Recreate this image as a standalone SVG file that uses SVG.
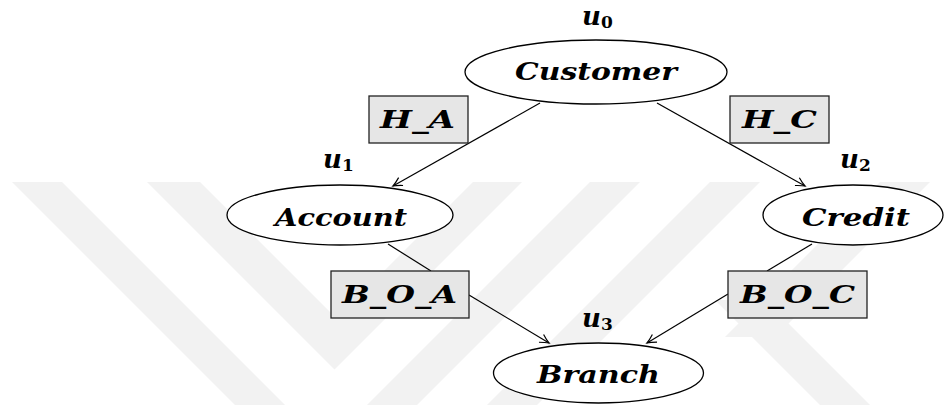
<svg xmlns="http://www.w3.org/2000/svg" width="944" height="405" viewBox="0 0 944 405">
<style>
.wm{fill:#f2f2f2;stroke:none}
.node ellipse{fill:#ffffff;stroke:#000;stroke-width:1.3}
.node rect{fill:#e6e6e6;stroke:#222;stroke-width:1.3}
.lbl{font-family:"DejaVu Serif","Liberation Serif",serif;font-weight:bold;font-style:italic;font-size:25px;fill:#000}
.u{font-family:"DejaVu Serif","Liberation Serif",serif;font-weight:bold;font-style:italic;font-size:26px;fill:#000}
.sub{font-style:normal;font-size:17px}
.edge{stroke:#000;stroke-width:1.2;fill:none}
</style>
<defs>
<marker id="arr" markerUnits="userSpaceOnUse" markerWidth="14" markerHeight="12" viewBox="-11 -6 12 12" refX="0" refY="0" orient="auto">
<path d="M -9 -4.5 Q -3.5 -1.2 0 0 Q -3.5 1.2 -9 4.5" fill="none" stroke="#000" stroke-width="1.2"/>
</marker>
</defs>
<rect width="944" height="405" fill="#ffffff"/>
<g id="watermark">
<polygon class="wm" points="12,182 62,182 285,405 235,405"/>
<polygon class="wm" points="590,182 640,182 417,405 367,405"/>
<polygon class="wm" points="147,182 200,182 336.5,318.5 473,182 522,182 334.5,369.5"/>
<polygon class="wm" points="710,182 760,182 537,405 487,405"/>
<polygon class="wm" points="880,182 930,182 775,337 725,337"/>
<polygon class="wm" points="715,300 765,300 870,405 820,405"/>
</g>
<g id="connectors">
<line class="edge" x1="540" y1="103" x2="393" y2="186" marker-end="url(#arr)"/>
<line class="edge" x1="657" y1="103" x2="805" y2="186" marker-end="url(#arr)"/>
<line class="edge" x1="388" y1="244" x2="431" y2="271"/>
<line class="edge" x1="469" y1="295" x2="549" y2="343" marker-end="url(#arr)"/>
<line class="edge" x1="812" y1="244" x2="767" y2="271"/>
<line class="edge" x1="728" y1="294" x2="647" y2="343" marker-end="url(#arr)"/>
</g>
<g id="customer" class="node">
<ellipse cx="596" cy="72" rx="131" ry="32"/>
<text class="lbl" x="515" y="80" textLength="162" lengthAdjust="spacingAndGlyphs">Customer</text>
<text class="u" x="582" y="25">u<tspan class="sub" dy="3">0</tspan></text>
</g>
<g id="account" class="node">
<ellipse cx="340" cy="215" rx="113" ry="30"/>
<text class="lbl" x="275" y="226" textLength="132" lengthAdjust="spacingAndGlyphs">Account</text>
<text class="u" x="323" y="168">u<tspan class="sub" dy="3">1</tspan></text>
</g>
<g id="credit" class="node">
<ellipse cx="853" cy="215" rx="90" ry="30"/>
<text class="lbl" x="802" y="226" textLength="108" lengthAdjust="spacingAndGlyphs">Credit</text>
<text class="u" x="840" y="168">u<tspan class="sub" dy="3">2</tspan></text>
</g>
<g id="branch" class="node">
<ellipse cx="598.5" cy="373" rx="105" ry="30"/>
<text class="lbl" x="537" y="383" textLength="123" lengthAdjust="spacingAndGlyphs">Branch</text>
<text class="u" x="582" y="327">u<tspan class="sub" dy="3">3</tspan></text>
</g>
<g id="h_a" class="node">
<rect x="369" y="96" width="99" height="47"/>
<text class="lbl" x="380" y="128" textLength="75" lengthAdjust="spacingAndGlyphs">H_A</text>
</g>
<g id="h_c" class="node">
<rect x="730" y="96" width="99" height="47"/>
<text class="lbl" x="742" y="128" textLength="75" lengthAdjust="spacingAndGlyphs">H_C</text>
</g>
<g id="b_o_a" class="node">
<rect x="331" y="271" width="138" height="47"/>
<text class="lbl" x="342" y="303" textLength="115" lengthAdjust="spacingAndGlyphs">B_O_A</text>
</g>
<g id="b_o_c" class="node">
<rect x="728" y="271" width="139" height="47"/>
<text class="lbl" x="740" y="303" textLength="115" lengthAdjust="spacingAndGlyphs">B_O_C</text>
</g>
</svg>
